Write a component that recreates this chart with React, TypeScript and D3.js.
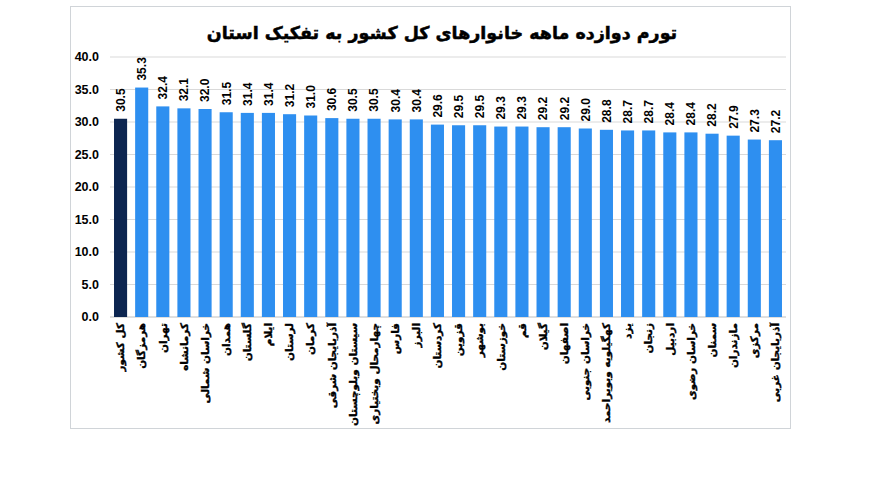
import { useEffect } from 'react';
import * as d3 from 'd3';

const title = 'تورم دوازده ماهه خانوارهای کل کشور به تفکیک استان';

const provinces = [
  'کل کشور', 'هرمزگان', 'تهران', 'کرمانشاه', 'خراسان شمالی', 'همدان', 'گلستان', 'ایلام',
  'لرستان', 'کرمان', 'آذربایجان شرقی', 'سیستان وبلوچستان', 'چهارمحال وبختیاری', 'فارس', 'البرز',
  'کردستان', 'قزوین', 'بوشهر', 'خوزستان', 'قم', 'گیلان', 'اصفهان', 'خراسان جنوبی',
  'کهگیلویه وبویراحمد', 'یزد', 'زنجان', 'اردبیل', 'خراسان رضوی', 'سمنان', 'مازندران', 'مرکزی',
  'آذربایجان غربی',
];

const inflation = [
  30.5, 35.3, 32.4, 32.1, 32.0, 31.5, 31.4, 31.4, 31.2, 31.0, 30.6, 30.5, 30.5, 30.4, 30.4,
  29.6, 29.5, 29.5, 29.3, 29.3, 29.2, 29.2, 29.0, 28.8, 28.7, 28.7, 28.4, 28.4, 28.2, 27.9,
  27.3, 27.2,
];

const yTicks = [0, 5, 10, 15, 20, 25, 30, 35, 40];

const W = 886;
const H = 499;
const plot = { left: 110, right: 786, top: 57, bottom: 317 };

const numFont = "'Liberation Sans', Arial, sans-serif";
const faFont = "'DejaVu Sans', sans-serif";

export default function App() {
  useEffect(() => {
    document.body.style.margin = '0';
  }, []);

  const x = d3.scaleBand<string>().domain(provinces).range([plot.left, plot.right]).paddingInner(0.38).paddingOuter(0.19);
  const y = d3.scaleLinear().domain([0, 40]).range([plot.bottom, plot.top]);

  return (
    <svg width={W} height={H} style={{ display: 'block', background: '#fff' }}>
      {/* frame */}
      <rect x={70.5} y={6.5} width={720} height={422} fill="#fff" stroke="#d0d4d8" strokeWidth={1} />

      <text x={442} y={39} textAnchor="middle" fontFamily={faFont} fontWeight="bold" fontSize={17.5}
        fill="#000" stroke="#000" strokeWidth={0.5}>
        {title}
      </text>

      {/* grid + y labels */}
      {yTicks.map((t) => (
        <g key={t}>
          <line x1={plot.left} x2={plot.right} y1={y(t)} y2={y(t)} stroke={t === 0 ? '#bfbfbf' : '#d9d9d9'} strokeWidth={1} />
          <text x={99} y={y(t)} dy="0.35em" textAnchor="end" fontFamily={numFont} fontWeight="bold" fontSize={12.5} fill="#000">
            {t.toFixed(1)}
          </text>
        </g>
      ))}

      {/* bars */}
      {provinces.map((p, i) => {
        const v = inflation[i];
        const bx = x(p)!;
        const cx = bx + x.bandwidth() / 2;
        return (
          <g key={p}>
            <rect x={bx} y={y(v)} width={x.bandwidth()} height={y(0) - y(v)} fill={i === 0 ? '#0c2550' : '#2e8ff0'} />
            <text
              transform={`translate(${cx},${y(v) - 7}) rotate(-90)`}
              dy="0.36em"
              textAnchor="start"
              fontFamily={numFont}
              fontWeight="bold"
              fontSize={12}
              fill="#000"
            >
              {v.toFixed(1)}
            </text>
            <text
              transform={`translate(${cx},${plot.bottom + 6}) rotate(-90)`}
              dy="0.36em"
              textAnchor="end"
              fontFamily={faFont}
              fontWeight="bold"
              fontSize={10.5}
              fill="#000"
              stroke="#000"
              strokeWidth={0.35}
            >
              {p}
            </text>
          </g>
        );
      })}
    </svg>
  );
}
